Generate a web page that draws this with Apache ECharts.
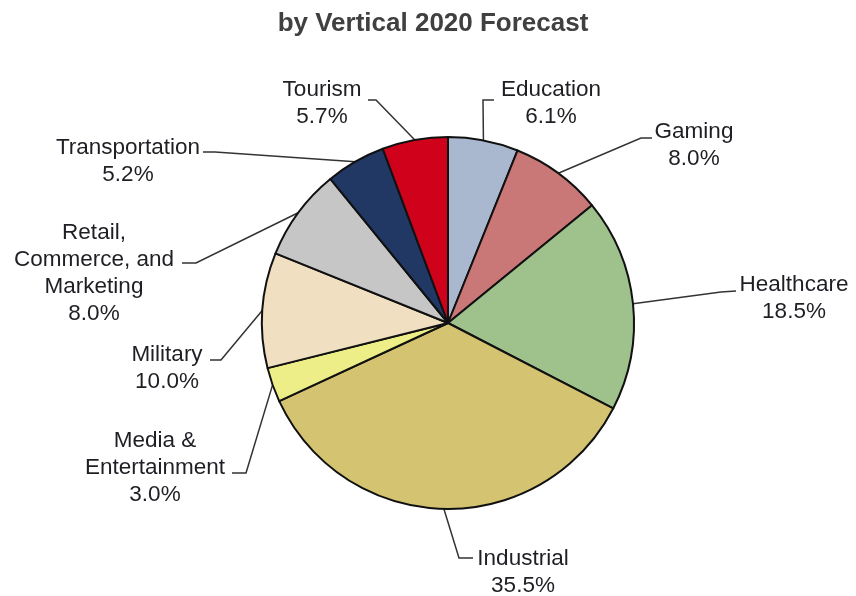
<!DOCTYPE html>
<html>
<head>
<meta charset="utf-8">
<script src="https://cdn.jsdelivr.net/npm/echarts@6/dist/echarts.min.js"></script>
<style>
html,body{margin:0;padding:0;background:#fff;}
#chart{width:856px;height:596px;}
</style>
</head>
<body>
<div id="chart"></div>
<script>
// ---- data ----
var categories = ['Education','Gaming','Healthcare','Industrial','Media &\nEntertainment','Military','Retail,\nCommerce, and\nMarketing','Transportation','Tourism'];
var shares = [6.1, 8.0, 18.5, 35.5, 3.0, 10.0, 8.0, 5.2, 5.7];
var titleText = 'by Vertical 2020 Forecast';

// ---- styles ----
var colors = ['#a9b8cf','#c97777','#9fc18c','#d4c472','#eeee88','#f0dfc0','#c6c6c6','#213865','#d0021b'];
// label placement (label centre, line elbow, line end) in page pixels
var labelSpots = [
  {x:551, y:103, elbow:[483,100], end:[494,100]},
  {x:694, y:145, elbow:[641,138], end:[652,138]},
  {x:794, y:298, elbow:[721,292], end:[736,291]},
  {x:523, y:572, elbow:[459,558], end:[473,558]},
  {x:155, y:468, elbow:[246,473], end:[232,473]},
  {x:167, y:368, elbow:[221,360], end:[210,360]},
  {x:94,  y:273, elbow:[196,263], end:[182,263]},
  {x:128, y:161, elbow:[215,152], end:[203,152]},
  {x:322, y:103, elbow:[376,100], end:[368,100]}
];

var chart = echarts.init(document.getElementById('chart'), null, {renderer:'canvas'});
var data = categories.map(function(c, i){
  return {name:c, value:shares[i], itemStyle:{color:colors[i]}};
});
chart.setOption({
  backgroundColor:'#ffffff',
  animation:false,
  title:{
    text:titleText,
    left:428, top:6, textAlign:'center',
    textStyle:{fontFamily:'Liberation Sans, Arial, sans-serif', fontWeight:'bold', fontSize:26, color:'#404040'}
  },
  series:[{
    type:'pie',
    center:[448,323],
    radius:186,
    startAngle:90,
    clockwise:true,
    avoidLabelOverlap:false,
    data:data,
    itemStyle:{borderColor:'#111111', borderWidth:2},
    label:{
      show:true,
      position:'outside',
      formatter:function(p){ return p.name + '\n' + p.value.toFixed(1) + '%'; },
      fontFamily:'Liberation Sans, Arial, sans-serif',
      fontSize:22.5,
      lineHeight:27,
      color:'#1e1e24',
      align:'center'
    },
    labelLine:{show:true, length:20, length2:10, lineStyle:{color:'#333333', width:1.5}},
    labelLayout:function(params){
      var s = labelSpots[params.dataIndex];
      return {
        x:s.x, y:s.y, align:'center', verticalAlign:'middle',
        labelLinePoints:[params.labelLinePoints[0], s.elbow, s.end]
      };
    },
    emphasis:{disabled:true}
  }]
});
</script>
</body>
</html>
